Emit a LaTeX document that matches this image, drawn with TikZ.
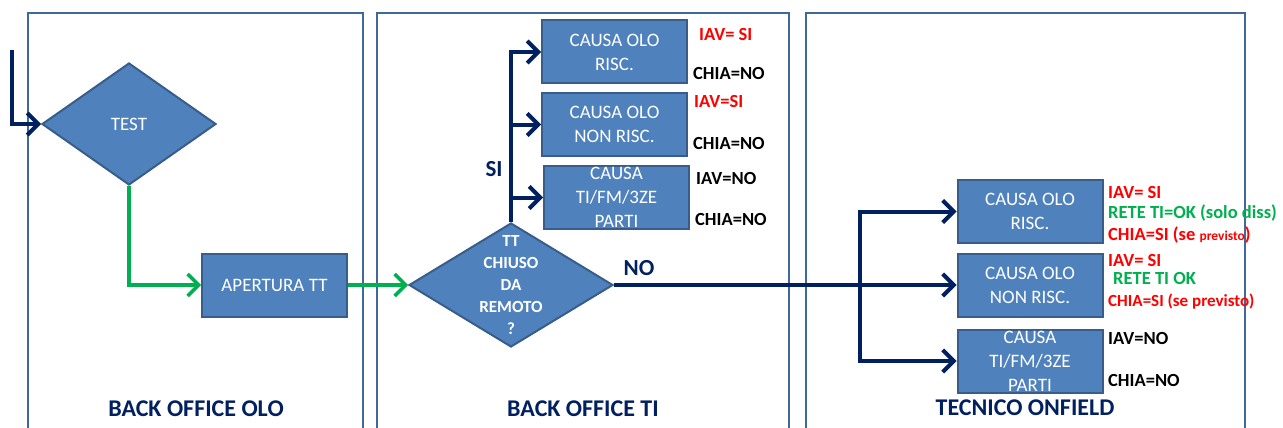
\documentclass[tikz,border=0pt]{standalone}
\usepackage{fontspec}
\setmainfont{Carlito}
\usetikzlibrary{arrows.meta,shapes.geometric}
\definecolor{boxfill}{HTML}{4F81BD}
\definecolor{boxline}{HTML}{385D8A}
\definecolor{navy}{HTML}{002060}
\definecolor{flowgreen}{HTML}{00B050}
\definecolor{panelline}{HTML}{41689A}
\definecolor{labred}{HTML}{FF0000}
\begin{document}
\begin{tikzpicture}[x=1pt,y=-1pt,
 panel/.style={draw=panelline,line width=2.2pt},
 stepbox/.style={draw=boxline,fill=boxfill,line width=2pt,minimum width=145pt,minimum height=63pt,inner sep=0pt,text=white,align=center,font=\fontsize{19}{24}\selectfont},
 boxtext/.style={text=white,align=center,inner sep=0pt,font=\fontsize{19}{24}\selectfont},
 decision/.style={diamond,draw=boxline,fill=boxfill,line width=2pt,inner sep=0pt},
 navyarrow/.style={draw=navy,line width=4pt,-{Straight Barb[length=11pt,width=22pt]}},
 greenarrow/.style={draw=flowgreen,line width=3.5pt,-{Straight Barb[length=11pt,width=22pt]}},
 lab/.style={anchor=west,inner sep=0pt,font=\bfseries\fontsize{18.5}{18.5}\selectfont},
 labthree/.style={anchor=west,inner sep=0pt,font=\bfseries\fontsize{18.5}{18.5}\selectfont},
 paneltitle/.style={text=navy,inner sep=0pt,font=\bfseries\fontsize{24}{24}\selectfont},
 branchlabel/.style={text=navy,inner sep=0pt,font=\bfseries\fontsize{23}{23}\selectfont}]
\useasboundingbox (0,0) rectangle (1283,428);
\clip (0,0) rectangle (1283,428);
\fill[white] (0,0) rectangle (1283,428);
% panels
\draw[panel] (28,13) rectangle (363,440);
\draw[panel] (377,13) rectangle (789,440);
\draw[panel] (806,13) rectangle (1245,440);
\node[paneltitle] (t1) at (196,409) {BACK OFFICE OLO};
\node[paneltitle] (t2) at (583,409) {BACK OFFICE TI};
\node[paneltitle] (t3) at (1025,408) {TECNICO ONFIELD};
% panel 1
\node[decision,aspect=1.43,minimum width=174pt,minimum height=122pt] (d1) at (129,124) {};
\node[boxtext,font=\fontsize{19}{19}\selectfont] (d1t) at (d1) {TEST};
\node[stepbox] (ap) at (274.5,285) {APERTURA TT};
\coordinate (start) at (12,50);
\draw[navyarrow] (start) |- (d1.west);
\draw[greenarrow] (d1.south) |- (ap.west);
% panel 2
\node[decision,aspect=1.65,minimum width=204pt,minimum height=124pt] (d2) at (511,285) {};
\node[boxtext,font=\bfseries\fontsize{17}{22}\selectfont] (d2t) at (511,285.5) {TT\\CHIUSO\\DA\\REMOTO\\?};
\draw[greenarrow] (ap.east) -- (d2.west);
\node[stepbox] (A) at (614.5,52) {CAUSA OLO\\RISC.};
\node[stepbox] (B) at (614.5,124.5) {CAUSA OLO\\NON RISC.};
\node[stepbox] (C) at (616.5,197.5) {};
\node[boxtext] (Ct) at (C) {CAUSA\\TI/FM/3ZE\\PARTI};
\coordinate (sitop) at (d2.north |- A.west);
\coordinate (sib) at (d2.north |- B.west);
\coordinate (sic) at (d2.north |- C.west);
\draw[navyarrow] (d2.north) -- (sitop) -- (A.west);
\draw[navyarrow] (sib) -- (B.west);
\draw[navyarrow] (sic) -- (C.west);
\node[branchlabel] (si) at (494,169) {SI};
\node[branchlabel] (no) at (639,268) {NO};
\node[lab,text=labred] (l1) at (699,34) {IAV= SI};
\node[lab] (l2) at (693,73) {CHIA=NO};
\node[lab,text=labred] (l3) at (694,101) {IAV=SI};
\node[lab] (l4) at (693,143) {CHIA=NO};
\node[lab] (l5) at (696,178) {IAV=NO};
\node[lab] (l6) at (695,219) {CHIA=NO};
% panel 3
\node[stepbox] (A2) at (1030,211.5) {CAUSA OLO\\RISC.};
\node[stepbox] (B2) at (1030,285) {CAUSA OLO\\NON RISC.};
\node[stepbox] (C2) at (1030,361) {};
\node[boxtext] (C2t) at (C2) {CAUSA\\TI/FM/3ZE\\PARTI};
\coordinate (nojoin) at (860,285);
\draw[navyarrow] (d2.east) -- (B2.west);
\draw[navyarrow] (nojoin) |- (A2.west);
\draw[navyarrow] (nojoin) |- (C2.west);
\node[labthree,text=labred] (m1) at (1108,192) {IAV= SI};
\node[labthree,text=flowgreen] (m2) at (1108,213) {RETE TI=OK (solo diss)};
\node[labthree,text=labred] (m3) at (1108,235) {CHIA=SI (se {\fontsize{13.5}{13.5}\selectfont previsto})};
\node[labthree,text=labred] (m4) at (1108,260) {IAV= SI};
\node[labthree,text=flowgreen] (m5) at (1113,278) {RETE TI OK};
\node[labthree,text=labred,font=\bfseries\fontsize{17}{17}\selectfont] (m6) at (1108,302) {CHIA=SI (se previsto)};
\node[labthree] (m7) at (1108,338) {IAV=NO};
\node[labthree] (m8) at (1108,380) {CHIA=NO};
\end{tikzpicture}
\end{document}
